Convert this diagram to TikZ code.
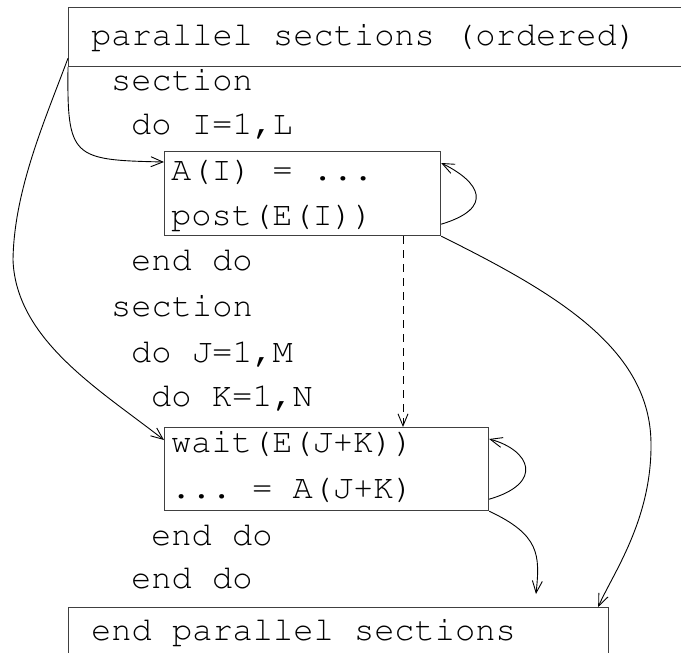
\documentclass[tikz,border=0pt]{standalone}
\usepackage[T1]{fontenc}
\usepackage{courier}
\usetikzlibrary{arrows.meta}
\frenchspacing
\begin{document}
\begin{tikzpicture}[x=1pt,y=-1pt,
  box/.style={draw=black!75, line width=1.2pt, inner sep=0pt, anchor=north west},
  code/.style={font=\fontsize{33.7}{40}\selectfont\ttfamily, inner sep=0pt, anchor=mid west},
  flow/.style={line width=0.9pt, -{Straight Barb[length=12pt,width=10pt,line width=0.9pt]}},
]
\useasboundingbox (0,0) rectangle (681,653);
\clip (0,0) rectangle (681,653);

% boxes
\node[box, minimum width=640pt, minimum height=59pt] (par) at (68,7) {};
\node[box, minimum width=276pt, minimum height=84pt] (b1) at (164,151) {};
\node[box, minimum width=324pt, minimum height=83pt] (b2) at (164,427) {};
\node[box, minimum width=540pt, minimum height=70pt] (endb) at (68,607) {};

% program text, one column = 20pt
\node[code] (t0)  at (91,43)  {parallel sections (ordered)};
\node[code] (t1)  at (111,88) {section};
\node[code] (t2)  at (131,132) {do I=1,L};
\node[code] (t3)  at (171,178) {A(I) = ...};
\node[code] (t4)  at (171,223) {post(E(I))};
\node[code] (t5)  at (131,268) {end do};
\node[code] (t6)  at (111,314) {section};
\node[code] (t7)  at (131,360) {do J=1,M};
\node[code] (t8)  at (151,404) {do K=1,N};
\node[code] (t9)  at (171,450) {wait(E(J+K))};
\node[code] (t10) at (171,496) {... = A(J+K)};
\node[code] (t11) at (151,543) {end do};
\node[code] (t12) at (131,586) {end do};
\node[code] (t13) at (91,638) {end parallel sections};

% control flow
\coordinate (dx) at (403,330);
\coordinate (c1) at (536,594);

\draw[flow] (par.south west) .. controls (67,158) and (72,160) .. ([yshift=-11pt]b1.north west);
\draw[flow] ([yshift=9pt]par.south west) .. controls (45,120) and (14,190) .. (13,260)
  .. controls (16,340) and (100,390) .. ([yshift=-13pt]b2.north west);
\draw[flow] ([yshift=12pt]b1.south east) .. controls (495,208) and (480,182) .. ([yshift=-12pt]b1.north east);
\draw[flow] ([yshift=12pt]b2.south east) .. controls (545,483) and (530,450) .. ([yshift=-12pt]b2.north east);
\draw[flow, dash pattern=on 8pt off 6pt] (b1.south -| dx) -- (b2.north -| dx);
\draw[flow] (b1.south east) .. controls (560,295) and (650,350) .. (651,443)
  .. controls (652,520) and (612,575) .. ([xshift=-11pt]endb.north east);
\draw[flow] (b2.south east) .. controls (540,535) and (540,555) .. (c1);
\end{tikzpicture}
\end{document}
